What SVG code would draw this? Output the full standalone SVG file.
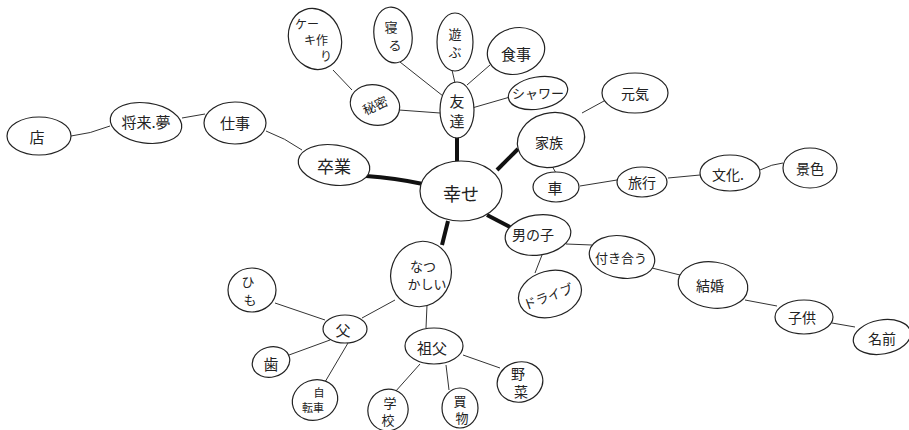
<svg xmlns="http://www.w3.org/2000/svg" width="909" height="430" viewBox="0 0 909 430">
<style>
.n ellipse{fill:#fff;stroke:#222;stroke-width:1.2}
.n text{font-family:"Noto Sans CJK JP","Noto Sans",sans-serif;font-size:15px;fill:#222;text-anchor:middle;dominant-baseline:central}
#edges path{fill:none;stroke:#333;stroke-width:1}
#edges path.thick{stroke:#111;stroke-width:4}
</style>
<rect width="909" height="430" fill="#fff"/>
<g id="edges">
<path class="thick" d="M366,176 Q395,178 423,184"/>
<path class="thick" d="M457,137 L457,161"/>
<path class="thick" d="M497,170 L518,149"/>
<path class="thick" d="M487,215 L510,227"/>
<path class="thick" d="M448,221 L442,245"/>
<path d="M71,136 Q90,134 110,126"/>
<path d="M182,118 L205,114"/>
<path d="M266,131 Q285,138 302,150"/>
<path d="M333,70 L352,90"/>
<path d="M400,62 L443,96"/>
<path d="M452,70 L455,83"/>
<path d="M490,65 L467,85"/>
<path d="M510,97 L472,108"/>
<path d="M399,110 L440,113"/>
<path d="M582,113 L604,101"/>
<path d="M552,166 L556,173"/>
<path d="M580,186 L617,180"/>
<path d="M668,178 L700,175"/>
<path d="M760,170 Q772,164 783,163"/>
<path d="M542,255 L535,273"/>
<path d="M566,244 L592,245"/>
<path d="M652,268 L680,275"/>
<path d="M745,300 L777,306"/>
<path d="M832,323 L855,327"/>
<path d="M395,300 L362,318"/>
<path d="M427,305 L426,328"/>
<path d="M275,303 L325,320"/>
<path d="M330,340 L289,355"/>
<path d="M348,343 L325,382"/>
<path d="M420,364 L395,392"/>
<path d="M446,365 L449,390"/>
<path d="M463,355 L500,368"/>
</g>
<g id="n-shiawase" class="n"><ellipse cx="461" cy="191" rx="41" ry="30"/><text x="461" y="193" style="font-size:18px">幸せ</text></g>
<g id="n-sotsugyou" class="n"><ellipse cx="334" cy="165" rx="36" ry="20" transform="rotate(8 334 165)"/><text x="334" y="165" style="font-size:17px">卒業</text></g>
<g id="n-shigoto" class="n"><ellipse cx="235" cy="123" rx="31" ry="21"/><text x="235" y="122">仕事</text></g>
<g id="n-yume" class="n"><ellipse cx="146" cy="123" rx="36" ry="20" transform="rotate(8 146 123)"/><text x="146" y="121">将来.夢</text></g>
<g id="n-mise" class="n"><ellipse cx="39" cy="136" rx="32" ry="19"/><text x="37" y="136">店</text></g>
<g id="n-tomodachi" class="n"><ellipse cx="457" cy="110" rx="17" ry="28"/><text x="457" y="110"><tspan x="457" dy="-10">友</tspan><tspan x="457" dy="20">達</tspan></text></g>
<g id="n-himitsu" class="n"><ellipse cx="375" cy="105" rx="25" ry="20" transform="rotate(15 375 105)"/><text x="375" y="105" style="font-size:13px" transform="rotate(-25 375 105)">秘密</text></g>
<g id="n-cake" class="n"><ellipse cx="315" cy="39" rx="26" ry="31" transform="rotate(-20 315 39)"/><text x="315" y="39" style="font-size:12px"><tspan x="307" dy="-16">ケー</tspan><tspan x="316" dy="16">キ作</tspan><tspan x="326" dy="16">り</tspan></text></g>
<g id="n-neru" class="n"><ellipse cx="393" cy="35" rx="19" ry="28" transform="rotate(-8 393 35)"/><text x="393" y="35" style="font-size:13px"><tspan x="391" dy="-9">寝</tspan><tspan x="395" dy="18">る</tspan></text></g>
<g id="n-asobu" class="n"><ellipse cx="455" cy="42" rx="18" ry="29"/><text x="455" y="42" style="font-size:13px"><tspan x="455" dy="-9">遊</tspan><tspan x="455" dy="18">ぶ</tspan></text></g>
<g id="n-shokuji" class="n"><ellipse cx="516" cy="51" rx="29" ry="23" transform="rotate(-15 516 51)"/><text x="516" y="53">食事</text></g>
<g id="n-shower" class="n"><ellipse cx="538" cy="93" rx="30" ry="16" transform="rotate(-10 538 93)"/><text x="538" y="92" style="font-size:13px">シャワー</text></g>
<g id="n-kazoku" class="n"><ellipse cx="551" cy="140" rx="34" ry="27" transform="rotate(-15 551 140)"/><text x="549" y="142" style="font-size:14px">家族</text></g>
<g id="n-genki" class="n"><ellipse cx="635" cy="93" rx="33" ry="20"/><text x="635" y="93" style="font-size:14px">元気</text></g>
<g id="n-kuruma" class="n"><ellipse cx="556" cy="187" rx="23" ry="15"/><text x="555" y="187">車</text></g>
<g id="n-ryokou" class="n"><ellipse cx="642" cy="182" rx="25" ry="15"/><text x="642" y="182" style="font-size:14px">旅行</text></g>
<g id="n-bunka" class="n"><ellipse cx="730" cy="173" rx="30" ry="18"/><text x="728" y="174" style="font-size:14px">文化.</text></g>
<g id="n-keshiki" class="n"><ellipse cx="810" cy="168" rx="27" ry="20"/><text x="810" y="168" style="font-size:14px">景色</text></g>
<g id="n-otoko" class="n"><ellipse cx="538" cy="235" rx="33" ry="20" transform="rotate(-8 538 235)"/><text x="533" y="234" style="font-size:14px">男の子</text></g>
<g id="n-drive" class="n"><ellipse cx="550" cy="294" rx="32" ry="23" transform="rotate(-15 550 294)"/><text x="548" y="296" style="font-size:13px" transform="rotate(-20 548 296)">ドライブ</text></g>
<g id="n-tsukiau" class="n"><ellipse cx="622" cy="257" rx="33" ry="21" transform="rotate(10 622 257)"/><text x="621" y="257" style="font-size:13px">付き合う</text></g>
<g id="n-kekkon" class="n"><ellipse cx="713" cy="285" rx="35" ry="23" transform="rotate(8 713 285)"/><text x="710" y="285" style="font-size:14px">結婚</text></g>
<g id="n-kodomo" class="n"><ellipse cx="804" cy="317" rx="29" ry="17"/><text x="802" y="317" style="font-size:14px">子供</text></g>
<g id="n-namae" class="n"><ellipse cx="882" cy="337" rx="29" ry="17" transform="rotate(-10 882 337)"/><text x="882" y="338" style="font-size:14px">名前</text></g>
<g id="n-natsukashii" class="n"><ellipse cx="421" cy="274" rx="30" ry="33" transform="rotate(20 421 274)"/><text x="421" y="274" style="font-size:13px"><tspan x="423" dy="-9">なつ</tspan><tspan x="427" dy="18">かしい</tspan></text></g>
<g id="n-himo" class="n"><ellipse cx="252" cy="290" rx="24" ry="22"/><text x="250" y="290" style="font-size:13px"><tspan x="248" dy="-9">ひ</tspan><tspan x="250" dy="18">も</tspan></text></g>
<g id="n-chichi" class="n"><ellipse cx="345" cy="329" rx="22" ry="14"/><text x="343" y="329">父</text></g>
<g id="n-ha" class="n"><ellipse cx="271" cy="362" rx="19" ry="15" transform="rotate(-15 271 362)"/><text x="271" y="363">歯</text></g>
<g id="n-jitensha" class="n"><ellipse cx="315" cy="400" rx="23" ry="20" transform="rotate(-20 315 400)"/><text x="315" y="400" style="font-size:11px"><tspan x="319" dy="-8">自</tspan><tspan x="313" dy="15">転車</tspan></text></g>
<g id="n-sofu" class="n"><ellipse cx="434" cy="346" rx="29" ry="18"/><text x="432" y="347">祖父</text></g>
<g id="n-gakkou" class="n"><ellipse cx="388" cy="410" rx="20" ry="21" transform="rotate(20 388 410)"/><text x="388" y="410" style="font-size:13px"><tspan x="390" dy="-8">学</tspan><tspan x="388" dy="17">校</tspan></text></g>
<g id="n-kaimono" class="n"><ellipse cx="460" cy="408" rx="18" ry="20"/><text x="460" y="408" style="font-size:13px"><tspan x="460" dy="-8">買</tspan><tspan x="462" dy="17">物</tspan></text></g>
<g id="n-yasai" class="n"><ellipse cx="520" cy="382" rx="23" ry="20" transform="rotate(-15 520 382)"/><text x="520" y="382" style="font-size:14px"><tspan x="518" dy="-9">野</tspan><tspan x="521" dy="18">菜</tspan></text></g>
</svg>
